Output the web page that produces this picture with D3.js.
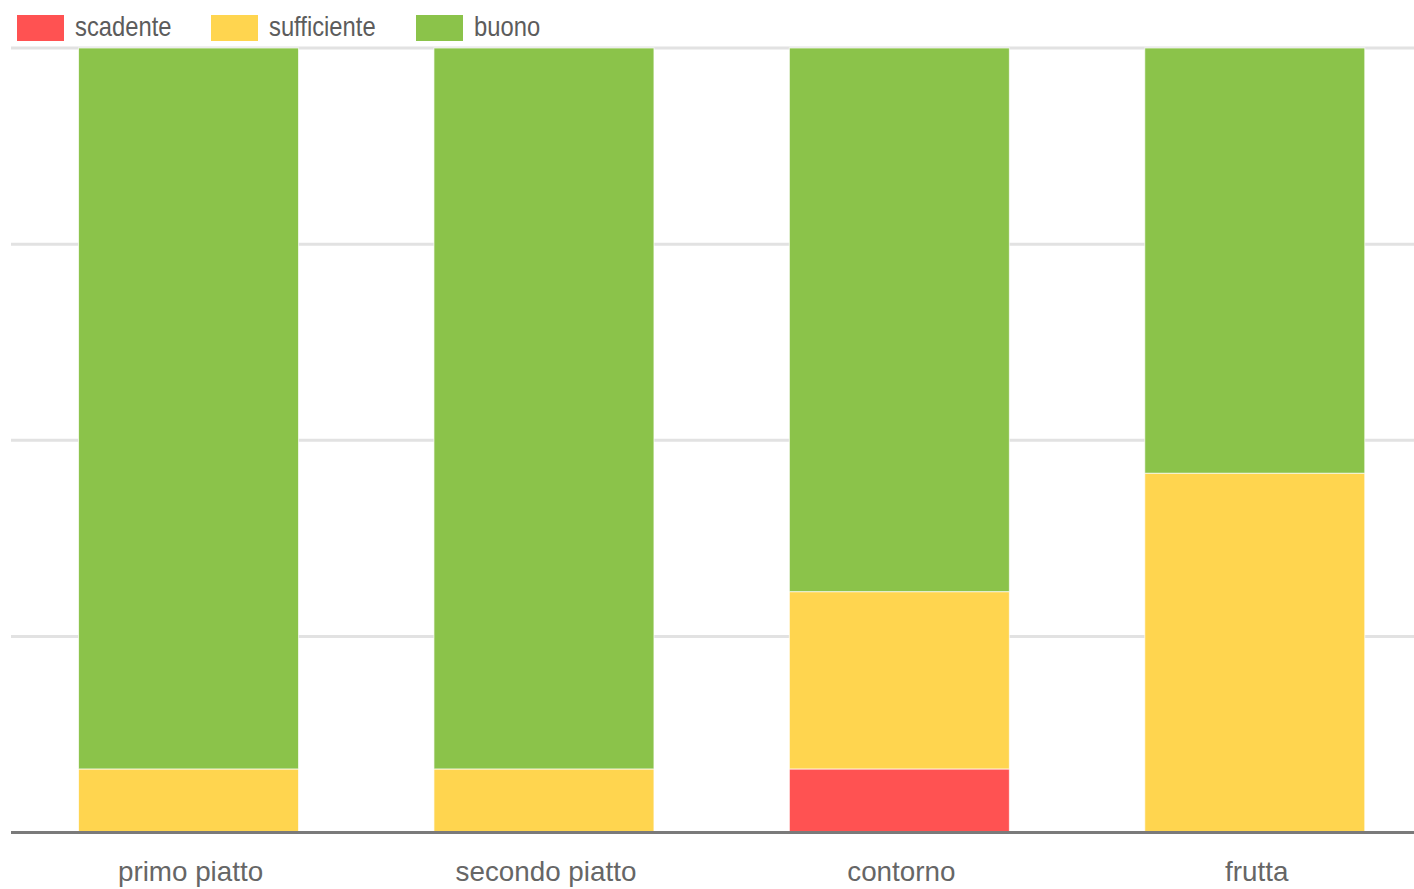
<!DOCTYPE html>
<html>
<head>
<meta charset="utf-8">
<script src="https://cdn.jsdelivr.net/npm/d3@7"></script>
<style>
  html, body { margin: 0; padding: 0; background: #fff; }
  svg { display: block; }
</style>
</head>
<body>
<svg id="chart" width="1414" height="889"></svg>
<script>
// Portions (%) per course, stacked bottom to top: scadente, sufficiente, buono
const categories = ["primo piatto", "secondo piatto", "contorno", "frutta"];
const scadente    = [0, 0, 8.1, 0];
const sufficiente = [8.1, 8.1, 22.6, 45.8];
const buono       = [91.9, 91.9, 69.3, 54.2];
const seriesNames = ["scadente", "sufficiente", "buono"];
const seriesColors = ["#FF5252", "#FFD54F", "#8BC34A"];
const yTicks = [0, 25, 50, 75, 100];

const W = 1414, H = 889;
const margin = { left: 11, top: 48, bottom: 832.5 };

const rows = categories.map((c, i) => ({
  category: c, scadente: scadente[i], sufficiente: sufficiente[i], buono: buono[i]
}));

const svg = d3.select("#chart");

const x = d3.scaleBand()
  .domain(categories)
  .range([margin.left, margin.left + 1421.3])
  .paddingInner(0.381)
  .paddingOuter(0.19);

const y = d3.scaleLinear().domain([0, 100]).range([margin.bottom, margin.top]);

const color = d3.scaleOrdinal().domain(seriesNames).range(seriesColors);

// horizontal gridlines
svg.append("g")
  .selectAll("line")
  .data(yTicks.filter(t => t > 0))
  .join("line")
  .attr("x1", margin.left).attr("x2", W)
  .attr("y1", d => y(d)).attr("y2", d => y(d))
  .attr("stroke", "#e2e2e2")
  .attr("stroke-width", 3);

// stacked bars
const stack = d3.stack().keys(seriesNames)(rows);

svg.append("g")
  .selectAll("g")
  .data(stack)
  .join("g")
  .attr("fill", d => color(d.key))
  .selectAll("rect")
  .data(d => d.filter(s => s[1] - s[0] > 0))
  .join("rect")
  .attr("x", d => x(d.data.category))
  .attr("width", x.bandwidth())
  .attr("y", d => y(d[1]))
  .attr("height", d => y(d[0]) - y(d[1]))
  .attr("stroke", "rgba(255,255,255,0.7)")
  .attr("stroke-width", 1);

// baseline
svg.append("line")
  .attr("x1", margin.left).attr("x2", W)
  .attr("y1", y(0)).attr("y2", y(0))
  .attr("stroke", "#7a7a7a")
  .attr("stroke-width", 3);

// category axis
const xAxis = svg.append("g")
  .attr("transform", `translate(0,${y(0)})`)
  .call(d3.axisBottom(x).tickSize(0).tickPadding(0));
xAxis.select(".domain").remove();
xAxis.selectAll("text")
  .attr("y", 48)
  .attr("dy", 0)
  .attr("dx", 2)
  .attr("fill", "#666")
  .attr("font-family", "Liberation Sans, Arial, sans-serif")
  .attr("font-size", 27.8);

// legend
const legendX = [17, 211, 416];
const legend = svg.append("g")
  .selectAll("g")
  .data(seriesNames)
  .join("g")
  .attr("transform", (d, i) => `translate(${legendX[i]},15)`);
legend.append("rect")
  .attr("width", 47).attr("height", 26)
  .attr("fill", d => color(d));
legend.append("text")
  .text(d => d)
  .attr("transform", "translate(58,21) scale(0.85,1)")
  .attr("fill", "#5c5c5c")
  .attr("font-family", "Liberation Sans, Arial, sans-serif")
  .attr("font-size", 28);
</script>
</body>
</html>
